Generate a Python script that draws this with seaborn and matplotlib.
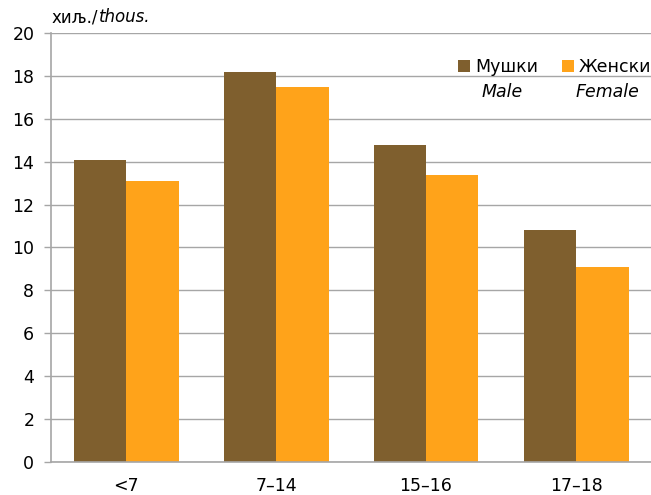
import pandas as pd
import matplotlib.pyplot as plt
import seaborn as sns

# Data (thousands)
groups = ['<7', '7–14', '15–16', '17–18']
male = [14.1, 18.2, 14.8, 10.8]
female = [13.1, 17.5, 13.4, 9.1]
series = ['Мушки', 'Женски']
series_en = ['Male', 'Female']
colors = ['#7f5f2e', '#ffa31a']

df = pd.DataFrame({
    'group': groups * 2,
    'value': male + female,
    'sex': [series[0]] * len(groups) + [series[1]] * len(groups),
})

sns.set_style('white')
plt.rcParams['font.family'] = ['DejaVu Sans']
plt.rcParams['text.color'] = 'black'

fig = plt.figure(figsize=(6.51, 4.95), dpi=100)
ax = fig.add_axes([51 / 651, 33 / 495, 600 / 651, 429 / 495])

sns.barplot(data=df, x='group', y='value', hue='sex', palette=colors,
            width=0.70, errorbar=None, ax=ax, saturation=1, linewidth=0)

ax.set_ylim(0, 20)
ax.set_yticks(range(0, 21, 2))
ax.set_xlim(-0.5, 3.5)
ax.set_xlabel('')
ax.set_ylabel('')
ax.yaxis.grid(True, color='#a6a6a6', linewidth=1.0)
ax.set_axisbelow(True)
for side in ['top', 'right']:
    ax.spines[side].set_visible(False)
for side in ['left', 'bottom']:
    ax.spines[side].set_color('#a6a6a6')
    ax.spines[side].set_linewidth(1.2)
ax.tick_params(axis='y', length=5, color='#a6a6a6', width=1.0, labelsize=12.5,
               pad=7, left=True, labelcolor='black')
ax.tick_params(axis='x', length=0, labelsize=12.5, pad=11, labelcolor='black')

leg = ax.legend(loc='upper right', bbox_to_anchor=(1.012, 0.957), ncol=2, frameon=False,
                fontsize=12.5, handlelength=0.65, handleheight=0.65, handletextpad=0.3,
                columnspacing=1.4, borderaxespad=0.0)
for txt in leg.get_texts():
    txt.set_color('black')

# English labels below the legend entries
fig.text(502 / 651, 1 - 92 / 495, series_en[0], fontsize=12.5, style='italic', ha='center', va='center')
fig.text(607 / 651, 1 - 92 / 495, series_en[1], fontsize=12.5, style='italic', ha='center', va='center')

# Unit label
t = fig.text(52 / 651, 1 - 17 / 495, 'хиљ./', fontsize=12, ha='left', va='center')
fig.canvas.draw()
bb = t.get_window_extent()
fig.text(bb.x1 / fig.bbox.width, 1 - 17 / 495, 'thous.', fontsize=12, style='italic', ha='left', va='center')

fig.savefig('out.png', dpi=100)
